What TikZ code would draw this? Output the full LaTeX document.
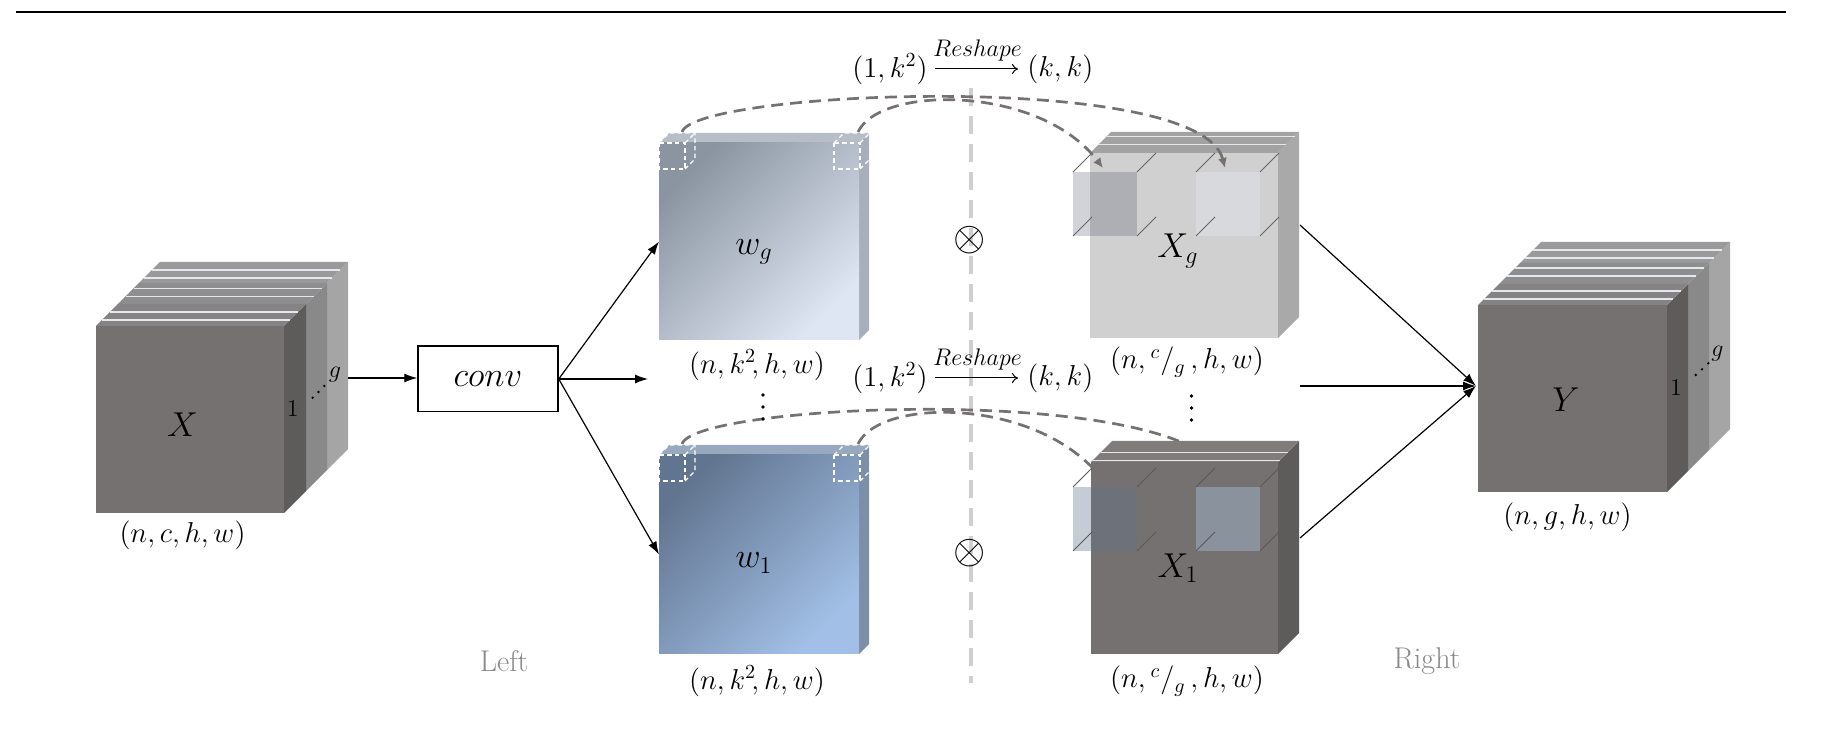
\documentclass[tikz,border=0pt]{standalone}
\usetikzlibrary{arrows.meta}
\definecolor{Front}{HTML}{767171}
\definecolor{SideA}{HTML}{5E5B5B}
\definecolor{SideB}{HTML}{898989}
\definecolor{SideC}{HTML}{A5A5A5}
\definecolor{TopA}{HTML}{858383}
\definecolor{TopB}{HTML}{8E8E8E}
\definecolor{TopC}{HTML}{9A9A9A}
\definecolor{StripeC}{HTML}{E4E8EE}
\definecolor{wgTL}{HTML}{8B94A1}
\definecolor{wgBR}{HTML}{DDE6F2}
\definecolor{wgSide}{HTML}{A6AFBB}
\definecolor{wgTop}{HTML}{B7BEC8}
\definecolor{wiTL}{HTML}{627590}
\definecolor{wiBR}{HTML}{A2C0E7}
\definecolor{wiSide}{HTML}{7B8EAA}
\definecolor{wiTop}{HTML}{98A8BF}
\definecolor{XgFront}{HTML}{D0D0D0}
\definecolor{XgSide}{HTML}{A9A9A9}
\definecolor{XgTop}{HTML}{A2A2A2}
\definecolor{XiTop}{HTML}{807C7C}
\definecolor{ArcC}{HTML}{767171}
\definecolor{VlineC}{HTML}{D0CECE}
\definecolor{LRC}{HTML}{898989}
\definecolor{GlassA}{RGB}{70,80,100}
\definecolor{GlassB}{HTML}{E2E8F2}
\definecolor{GlassC}{RGB}{94,115,140}
\definecolor{GlassD}{RGB}{159,179,204}
% side and top faces of a slab: x1, y1 (top), x2, y2 (bottom), depth, side colour, top colour
\newcommand\myslab[7]{%
  \fill[#6] (#3,#2) -- ++(#5,-#5) -- ++(0,{#4-#2}) -- (#3,#4) -- cycle;
  \fill[#7] (#1,#2) -- ++(#5,-#5) -- ++({#3-#1},0) -- (#3,#2) -- cycle;
}
% light stripe on a top face: x1, y1, x2, offset
\newcommand\mystripe[4]{%
  \draw[stripe] ({#1+#4},{#2-#4}) -- ({#3+#4},{#2-#4});
}
% small dashed cube: front top-left corner
\newcommand\mydcube[2]{%
  \draw[wdash] (#1,#2) rectangle ++(26,26);
  \draw[wdash] (#1,#2) -- ++(10,-10) -- ++(26,0) -- ++(0,26) -- ++(-10,10);
  \draw[wdash] ({#1+26},#2) -- ++(10,-10);
}
% glass box: front top-left, fill colour, opacity, edge colour
\newcommand\mygbox[5]{%
  \fill[#3, opacity=#4] (#1,#2) rectangle ++(64,64);
  \foreach \gdx/\gdy in {0/0,64/0,64/64,0/64}
    \draw[#5, line width=0.4pt] ({#1+\gdx},{#2+\gdy}) -- ++(19,-19);
}
% vertical ellipsis drawn as three dots: x, y of the middle dot
\newcommand\myvdots[2]{%
  \fill ({#1},{#2-12}) circle (1.9) ({#1},{#2}) circle (1.9) ({#1},{#2+12}) circle (1.9);
}
\tikzset{
  lbl/.style={font=\fontsize{14.4}{16}\selectfont, inner sep=0pt},
  big/.style={font=\fontsize{17.28}{20}\selectfont, inner sep=0pt},
  tiny/.style={font=\fontsize{11.5}{13}\selectfont, inner sep=1pt},
  face/.style={rectangle, inner sep=0pt, outer sep=0pt, anchor=north west, draw=none},
  stripe/.style={draw=StripeC, line width=0.6pt},
  wdash/.style={draw=white, line width=0.6pt, dash pattern=on 2.2pt off 1.6pt},
  dasharc/.style={draw=ArcC, line width=1.35pt, dash pattern=on 6pt off 3.5pt},
  arctip/.style={dasharc, -{Latex[length=5pt,width=4.5pt]}},
  conn/.style={draw=black, line width=0.6pt, -{Latex[length=6.5pt,width=4.5pt]}},
  vline/.style={draw=VlineC, line width=1.7pt, dash pattern=on 9pt off 5pt},
  rsarrow/.style={draw=black, line width=0.5pt, -{To[length=3pt,width=5pt]}},
  side/.style={font=\fontsize{15}{18}\selectfont, text=LRC, inner sep=0pt},
  chan/.style={font=\fontsize{12}{15}\selectfont, inner sep=0pt},
}
\begin{document}
\begin{tikzpicture}[x=0.5pt,y=-0.5pt]
\useasboundingbox (0,0) rectangle (1828,732);
% top rule
\draw[line width=1pt] (16,11.7) -- (1786,11.7);
% vertical separator
\draw[vline] (971,88) -- (971,683);

% ---------- X stack ----------
\myslab{139}{283}{327}{470}{21}{SideC}{TopC}
\mystripe{139}{283}{327}{5}\mystripe{139}{283}{327}{13}
\myslab{117.5}{304.5}{305.5}{491.5}{21.5}{SideB}{TopB}
\mystripe{117.5}{304.5}{305.5}{8}\mystripe{117.5}{304.5}{305.5}{16}
\myslab{96}{326}{284}{513}{22}{SideA}{TopA}
\mystripe{96}{326}{284}{6}\mystripe{96}{326}{284}{14}
\node[face, fill=Front, minimum width=94pt, minimum height=93.5pt] (X) at (96,326) {};
\node[big] (Xl) at (182.5,425) {$X$};
\node[chan] (X1n) at (292.7,408.3) {1};
\node[chan] (Xgn) at (335,375) {$g$};
\fill (312.7,397.7) circle (1.3) (318.5,392) circle (1.3) (324.3,386) circle (1.3);
\node[lbl] (Xdim) at (182.5,535) {$(n,c,h,w)$};

% ---------- conv ----------
\node[draw=black, line width=0.75pt, minimum width=70pt, minimum height=32.75pt, inner sep=0pt,
      font=\fontsize{17.28}{18}\selectfont] (conv) at (488,379) {$conv$};
\coordinate (Xo) at (348,378);
\draw[conn] (Xo) -- (Xo -| conv.west);

% ---------- w_g ----------
\myslab{659}{143}{859}{340}{10}{wgSide}{wgTop}
\node[face, top color=wgTL, bottom color=wgBR, shading angle=45,
      minimum width=100pt, minimum height=98.5pt] (wg) at (659,143) {};
\mydcube{659}{143}
\mydcube{834}{143}
\node[big] (wgl) at (754,252) {$w_g$};
\node[lbl] (wgdim) at (757,365) {$(n,k^2\!,h,w)$};

% ---------- w_1 ----------
\myslab{659}{455}{859}{654}{10}{wiSide}{wiTop}
\node[face, top color=wiTL, bottom color=wiBR, shading angle=45,
      minimum width=100pt, minimum height=99.5pt] (wi) at (659,455) {};
\mydcube{659}{455}
\mydcube{834}{455}
\node[big] (wil) at (754,563) {$w_1$};
\node[lbl] (widim) at (757,681) {$(n,k^2\!,h,w)$};

% conv arrows
\coordinate (cmid) at (648,379);
\draw[conn] (conv.east) -- (wg.west);
\draw[conn] (conv.east) -- (cmid);
\draw[conn] (conv.east) -- (wi.west);

% ---------- reshape labels ----------
\node[lbl, anchor=east] (ra1) at (928,69) {$(1,k^2)$};
\node[lbl, anchor=west] (rb1) at (1027,69) {$(k,k)$};
\draw[rsarrow, yshift=1.2pt, shorten <=3.5pt, shorten >=4.5pt] (ra1.east) -- node[tiny, above=2.5pt] (rs1) {$Reshape$} (rb1.west);
\node[lbl, anchor=east] (ra2) at (928,378) {$(1,k^2)$};
\node[lbl, anchor=west] (rb2) at (1027,378) {$(k,k)$};
\draw[rsarrow, yshift=1.2pt, shorten <=3.5pt, shorten >=4.5pt] (ra2.east) -- node[tiny, above=2.5pt] (rs2) {$Reshape$} (rb2.west);

% ---------- X_g ----------
\myslab{1090}{153}{1278}{338}{21}{XgSide}{XgTop}
\mystripe{1090}{153}{1278}{8.3}\mystripe{1090}{153}{1278}{16.6}
\node[face, fill=XgFront, minimum width=94pt, minimum height=92.5pt] (Xg) at (1090,153) {};
\mygbox{1073}{172}{GlassA}{0.25}{black!60}
\mygbox{1196}{172}{GlassB}{0.4}{black!60}
\node[big] (Xgl) at (1178,251) {$X_g$};
\node[lbl] (Xgdim) at (1187,362) {$(n,{}^{c}/_{g}\,,h,w)$};

% top arcs
\coordinate (ta1) at (682,132);
\coordinate (ta2) at (1225,168);
\coordinate (tb1) at (858,132);
\coordinate (tb2) at (1103,168);
\draw[arctip] (ta1) .. controls (695,90) and (1200,70) .. (ta2);
\draw[arctip] (tb1) .. controls (880,85) and (1040,85) .. (tb2);

% bottom arcs (their ends hidden behind X_1)
\coordinate (ba1) at (682,444);
\coordinate (ba2) at (1225,480);
\coordinate (bb1) at (858,444);
\coordinate (bb2) at (1103,480);
\draw[dasharc] (ba1) .. controls (695,402) and (1200,382) .. (ba2);
\draw[dasharc] (bb1) .. controls (880,397) and (1040,397) .. (bb2);
\myvdots{763}{407}
\myvdots{1191.5}{408}

% ---------- X_1 ----------
\myslab{1091}{462}{1278}{654}{21}{SideA}{XiTop}
\mystripe{1091}{462}{1278}{1.5}\mystripe{1091}{462}{1278}{9.5}
\node[face, fill=Front, minimum width=93.5pt, minimum height=96pt] (Xi) at (1091,462) {};
\mygbox{1073}{487}{GlassC}{0.36}{black!65}
\mygbox{1196}{487}{GlassD}{0.5}{black!65}
\node[big] (Xil) at (1178,568) {$X_1$};
\node[lbl] (Xidim) at (1187,681) {$(n,{}^{c}/_{g}\,,h,w)$};

% products
\node[font=\fontsize{20.74}{24}\selectfont, inner sep=0pt] (otop) at (970,240) {$\otimes$};
\node[font=\fontsize{20.74}{24}\selectfont, inner sep=0pt] (obot) at (970,553) {$\otimes$};

% ---------- Y stack ----------
\myslab{1520}{263}{1709}{450}{21}{SideC}{TopC}
\mystripe{1520}{263}{1709}{5}\mystripe{1520}{263}{1709}{13}
\myslab{1499}{284}{1688}{471}{21}{SideB}{TopB}
\mystripe{1499}{284}{1688}{8}\mystripe{1499}{284}{1688}{16}
\myslab{1478}{305}{1667}{492}{21}{SideA}{TopA}
\mystripe{1478}{305}{1667}{6}\mystripe{1478}{305}{1667}{14}
\node[face, fill=Front, minimum width=94.5pt, minimum height=93.5pt] (Y) at (1478,305) {};
\node[big] (Yl) at (1566,400) {$Y$};
\node[chan] (Y1n) at (1676,387.7) {1};
\node[chan] (Ygn) at (1717.3,353.3) {$g$};
\fill (1695.7,375) circle (1.3) (1702,369.3) circle (1.3) (1708.3,363.3) circle (1.3);
\node[lbl] (Ydim) at (1567.5,517) {$(n,g,h,w)$};

% arrows into Y
\coordinate (Yin) at (1476,386);
\coordinate (Xgo) at (1300,225);
\coordinate (mido) at (1300,386);
\coordinate (Xio) at (1300,538);
\draw[conn] (Xgo) -- (Yin);
\draw[conn] (mido) -- (Yin);
\draw[conn] (Xio) -- (Yin);

% side captions
\node[side] (left) at (504,661) {Left};
\node[side] (right) at (1427,661) {Right};
\end{tikzpicture}
\end{document}
